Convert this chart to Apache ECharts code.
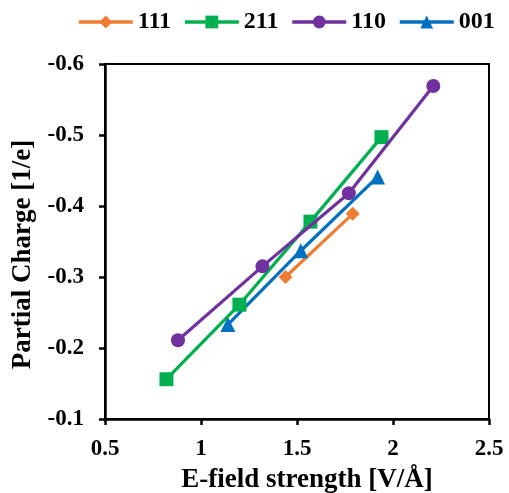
<!DOCTYPE html>
<html><head><meta charset="utf-8">
<script src="https://cdn.jsdelivr.net/npm/echarts@6/dist/echarts.min.js"></script>
<style>html,body{margin:0;padding:0;background:#fff}#c{width:509px;height:493px}</style>
</head><body><div id="c"></div>
<script>
const seriesNames = ['111', '211', '110', '001'];
const x111 = [1.44, 1.79];
const y111 = [-0.300, -0.389];
const x211 = [0.82, 1.20, 1.57, 1.94];
const y211 = [-0.156, -0.261, -0.378, -0.497];
const x110 = [0.88, 1.32, 1.77, 2.21];
const y110 = [-0.211, -0.315, -0.418, -0.569];
const x001 = [1.14, 1.52, 1.92];
const y001 = [-0.233, -0.337, -0.441];
const xTicks = [0.5, 1, 1.5, 2, 2.5];
const yTicks = [-0.6, -0.5, -0.4, -0.3, -0.2, -0.1];

const colors = ['#ED7D31', '#00B050', '#7030A0', '#0070C0'];
const symbols = ['diamond', 'rect', 'circle', 'triangle'];
const sizes = [14, 14, 14, 15];
const xs = [x111, x211, x110, x001];
const ys = [y111, y211, y110, y001];
const font = 'Liberation Serif';

const chart = echarts.init(document.getElementById('c'));
chart.setOption({
  animation: false,
  backgroundColor: '#fff',
  legend: {
    left: 72, top: 5,
    itemWidth: 54, itemHeight: 16, itemGap: 12,
    lineStyle: {width: 3.5},
    textStyle: {fontFamily: font, fontWeight: 'bold', fontSize: 24, color: '#000'},
    data: seriesNames
  },
  grid: {left: 105, right: 20, top: 64, bottom: 74, show: true, borderColor: '#000', borderWidth: 2,
    containLabel: false, outerBoundsMode: 'none'},
  xAxis: {
    type: 'value', min: xTicks[0], max: xTicks[xTicks.length-1], interval: 0.5,
    name: 'E-field strength [V/Å]', nameLocation: 'middle', nameGap: 48,
    nameTextStyle: {fontFamily: font, fontWeight: 'bold', fontSize: 27, color: '#000', padding: [0, 0, 0, 20]},
    axisLine: {lineStyle: {color: '#000', width: 2.5}},
    axisTick: {show: true, inside: false, length: 6, lineStyle: {color: '#000', width: 2.5}},
    axisLabel: {fontFamily: font, fontWeight: 'bold', fontSize: 23, color: '#000', margin: 19},
    splitLine: {show: false}
  },
  yAxis: {
    type: 'value', inverse: true, min: yTicks[0], max: yTicks[yTicks.length-1], interval: 0.1,
    name: 'Partial Charge [1/e]', nameLocation: 'middle', nameGap: 66, nameRotate: 90,
    nameTextStyle: {fontFamily: font, fontWeight: 'bold', fontSize: 27, color: '#000', padding: [0, 26, 0, 0]},
    axisLine: {lineStyle: {color: '#000', width: 2.5}},
    axisTick: {show: true, inside: false, length: 6, lineStyle: {color: '#000', width: 2.5}},
    axisLabel: {fontFamily: font, fontWeight: 'bold', fontSize: 23, color: '#000', margin: 21,
      formatter: v => v.toFixed(1)},
    splitLine: {show: false}
  },
  series: seriesNames.map((n, i) => ({
    name: n, type: 'line',
    data: xs[i].map((x, j) => [x, ys[i][j]]),
    symbol: symbols[i], symbolSize: sizes[i],
    lineStyle: {color: colors[i], width: 3.2},
    itemStyle: {color: colors[i], borderWidth: 0},
    z: i === 2 ? 5 : 3
  }))
});
</script></body></html>
